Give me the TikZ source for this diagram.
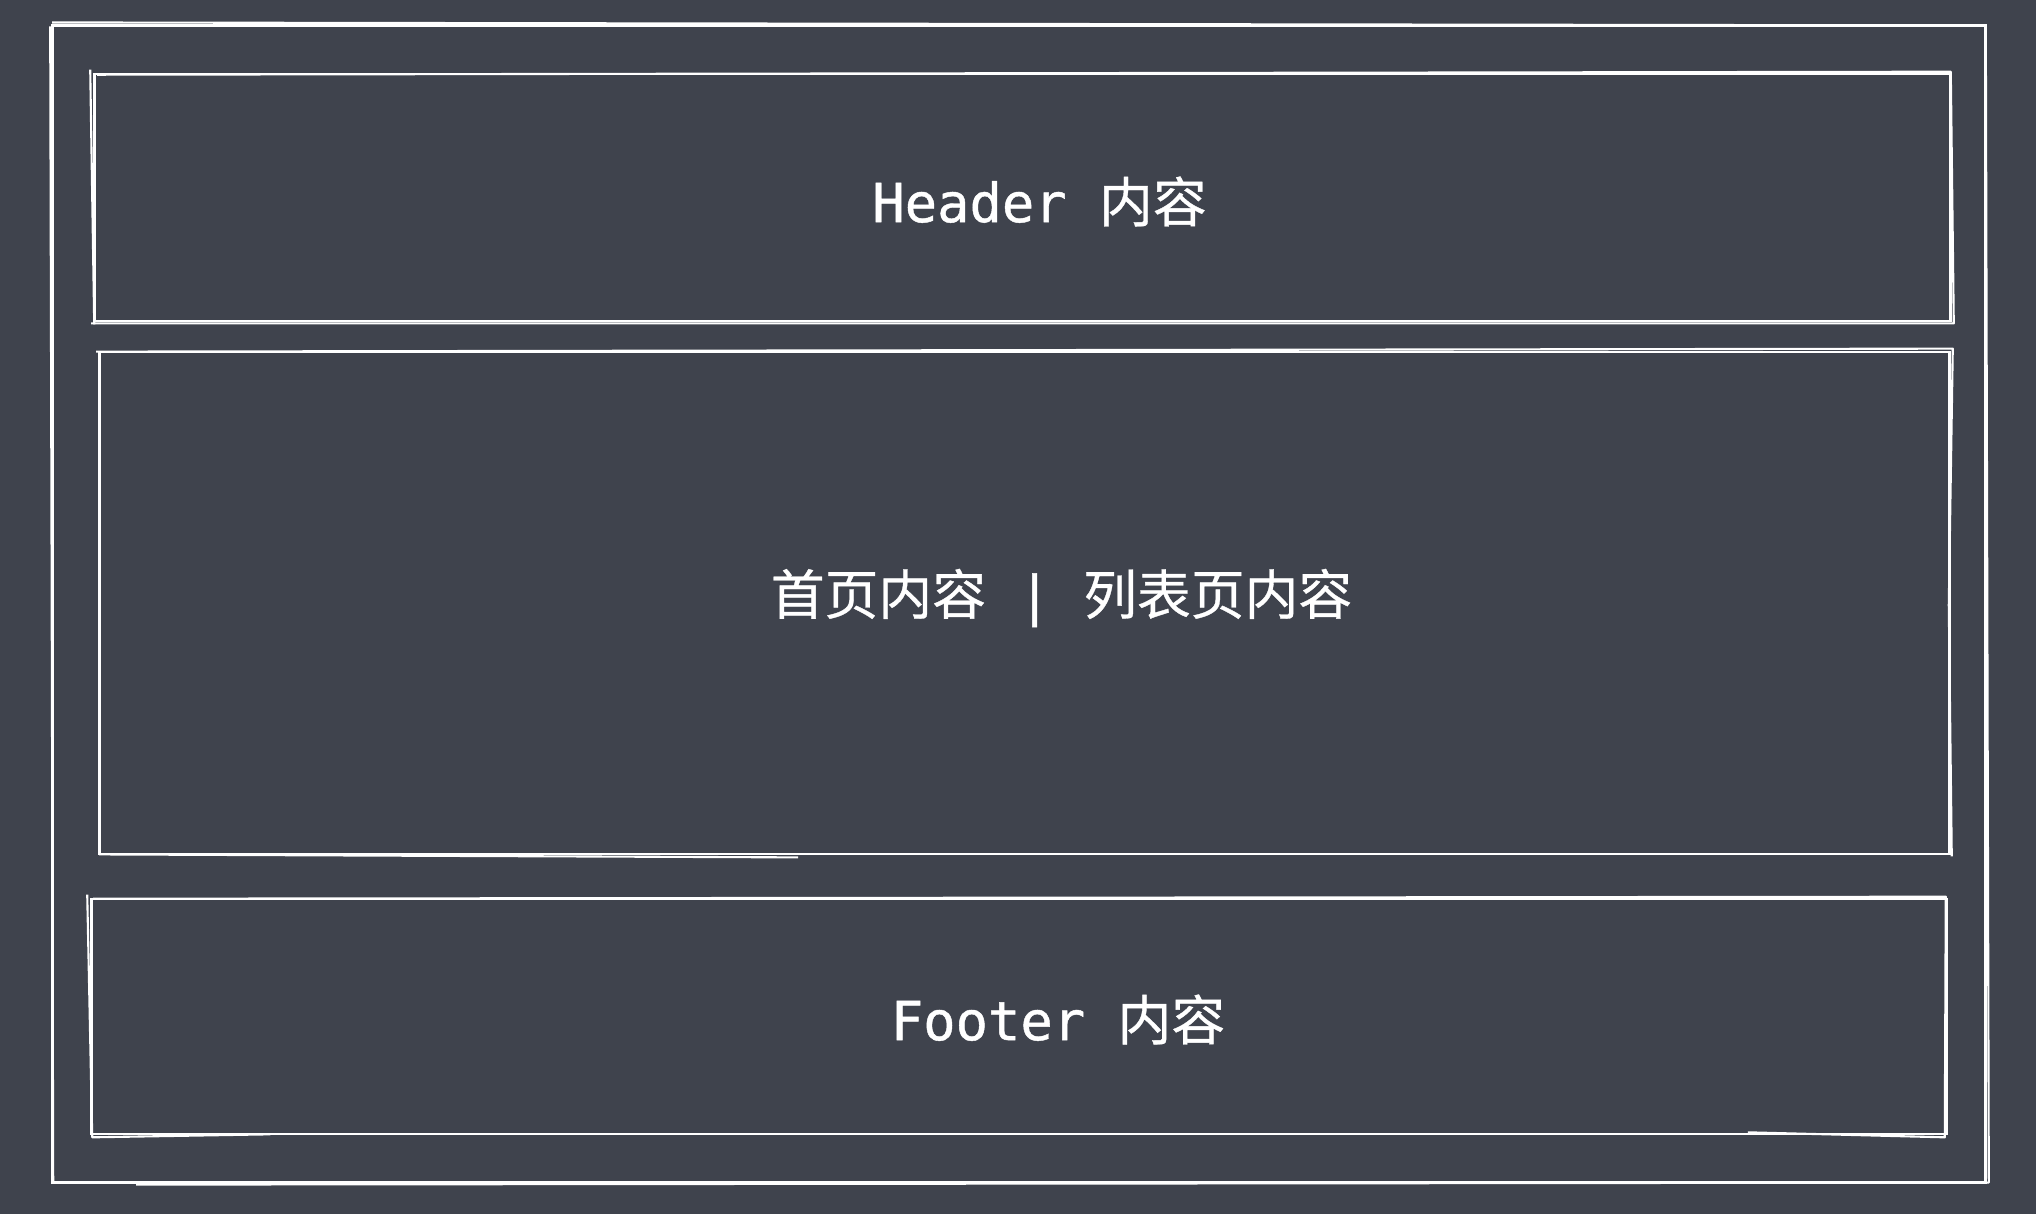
\documentclass[tikz,border=0pt]{standalone}
\usepackage{fontspec}
\newfontfamily\cjk{Noto Sans CJK SC}[FakeBold=0.6]
\newfontfamily\mono{DejaVu Sans Mono}[FakeBold=0.8]
\definecolor{slate}{HTML}{3F434D}
\tikzset{
  panel/.style={draw=white, line width=0.7pt, inner sep=0pt},
  sketch/.style={draw=white, line width=0.6pt, line join=round},
  caption/.style={text=white, inner sep=0pt, font=\fontsize{15.3}{18}\selectfont}
}
\begin{document}
\begin{tikzpicture}[x=0.01cm, y=-0.01cm]
    \fill[slate] (0,0) rectangle (2036,1214);
    \useasboundingbox (0,0) rectangle (2036,1214);
    % frame and the three panels
    \node [panel, minimum width=19.32cm, minimum height=11.56cm] (page) at (1019,604) {};
    \node [panel, minimum width=18.55cm, minimum height=2.47cm] (hdr) at (1022.5,197.5) {};
    \node [panel, minimum width=18.49cm, minimum height=5.02cm] (body) at (1024.5,603) {};
    \node [panel, minimum width=18.54cm, minimum height=2.35cm] (ftr) at (1019,1016.5) {};
    % second pencil stroke
    \draw [sketch] ([shift={(1,-2)}]page.north west) -- ([shift={(-1,1)}]page.north east)
        -- ([shift={(2,-1)}]page.south east) -- ([shift={(85,1)}]page.south west);
    \draw [sketch] ([shift={(-1,2)}]page.north west) -- ([shift={(2,-2)}]page.south west);
    \draw [sketch] ([shift={(-3,-3)}]hdr.north west) -- ([shift={(1,2)}]hdr.south west);
    \draw [sketch] ([shift={(4,2)}]hdr.north west) -- ([shift={(-1,-1)}]hdr.north east)
        -- ([shift={(2,1)}]hdr.south east) -- ([shift={(-2,1)}]hdr.south west);
    \draw [sketch] ([shift={(-2,1)}]body.north west) -- ([shift={(2,-2)}]body.north east)
        -- ([shift={(-2,2)}]body.east) -- ([shift={(1,1)}]body.south east);
    \draw [sketch] ([shift={(1,-1)}]body.south west) -- ([shift={(700,2)}]body.south west);
    \draw [sketch] ([shift={(-3,-3)}]ftr.north west) -- ([shift={(2,2)}]ftr.south west)
        -- ([shift={(180,-1)}]ftr.south west);
    \draw [sketch] ([shift={(3,1)}]ftr.north west) -- ([shift={(-2,-1)}]ftr.north east)
        -- ([shift={(-3,2)}]ftr.south east) -- ([shift={(-200,-3)}]ftr.south east);
    % labels
    \node [caption] (hdrtext) at ([shift={(17,4)}]hdr.center) {\mono Header \cjk 内容};
    \node [caption] (bodytext) at ([shift={(37,-5)}]body.center) {\cjk 首页内容\mono{} | \cjk 列表页内容};
    \node [caption] (ftrtext) at ([shift={(39,3)}]ftr.center) {\mono Footer \cjk 内容};
\end{tikzpicture}
\end{document}
